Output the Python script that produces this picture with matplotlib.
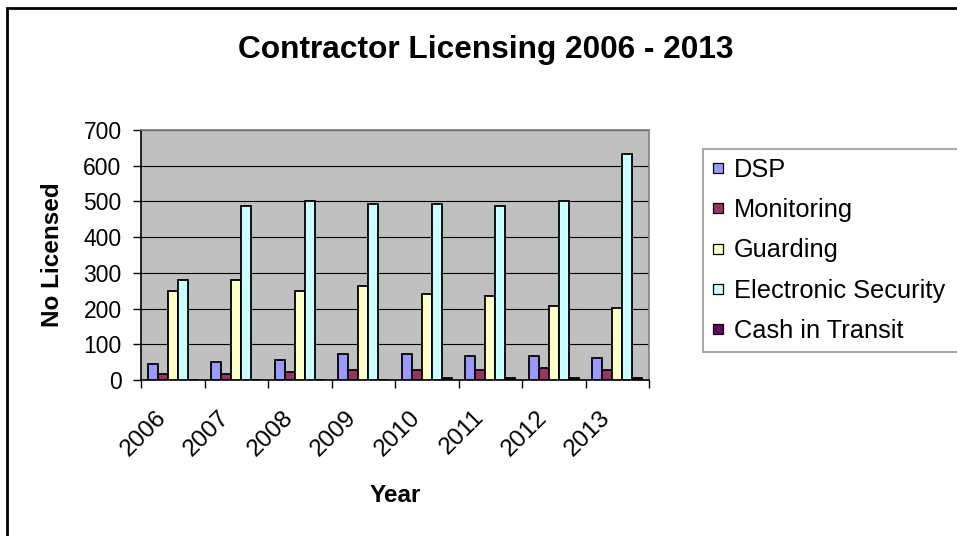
import numpy as np
import matplotlib.pyplot as plt
from matplotlib.lines import Line2D
from matplotlib.patches import Rectangle

plt.rcParams['font.family'] = ['Liberation Sans', 'DejaVu Sans']

years = ['2006', '2007', '2008', '2009', '2010', '2011', '2012', '2013']
dsp = [45, 50, 57, 73, 73, 67, 67, 62]
monitoring = [17, 17, 22, 29, 29, 29, 35, 29]
guarding = [250, 280, 250, 263, 242, 236, 208, 201]
electronic = [280, 488, 500, 492, 492, 488, 500, 633]
cash_transit = [0, 0, 0, 0, 5, 5, 5, 5]

series = [('DSP', dsp, '#9999FF'),
          ('Monitoring', monitoring, '#993366'),
          ('Guarding', guarding, '#FFFFCC'),
          ('Electronic Security', electronic, '#CCFFFF'),
          ('Cash in Transit', cash_transit, '#660066')]

fig = plt.figure(figsize=(9.57, 5.36), dpi=100)
ax = fig.add_axes([141/957, 1 - 380/536, 508/957, 250/536])
ax.set_facecolor('#C0C0C0')

x = np.arange(len(years))
w = 0.1575
for i, (name, vals, col) in enumerate(series):
    ax.bar(x + (i - 2) * w, vals, w, color=col, edgecolor='black',
           linewidth=1.3, label=name, zorder=3)

ax.set_xlim(-0.5, len(years) - 0.5)
ax.set_ylim(0, 700)
ax.set_yticks(range(0, 701, 100))
ax.yaxis.grid(True, color='black', linewidth=0.8, zorder=0)
ax.tick_params(axis='y', labelsize=16.5, length=6, width=1, direction='out', pad=8)

# year labels sit between the boundary ticks
ax.set_xticks(np.arange(-0.5, len(years), 1))
ax.set_xticklabels([])
ax.set_xticks(x - 0.28, minor=True)
ax.set_xticklabels(years, minor=True, rotation=45, ha='right',
                   rotation_mode='anchor', fontsize=17.5)
ax.tick_params(axis='x', which='major', length=6, width=1, direction='out')
ax.tick_params(axis='x', which='minor', length=0, pad=19)

for s in ['top', 'right']:
    ax.spines[s].set_color('#808080')
    ax.spines[s].set_linewidth(1.2)
for s in ['left', 'bottom']:
    ax.spines[s].set_color('black')
    ax.spines[s].set_linewidth(1.2)

ax.set_ylabel('No Licensed', fontsize=17.5, fontweight='bold', labelpad=14)
ax.set_xlabel('Year', fontsize=17.5, fontweight='bold', labelpad=17)

fig.text(0.508, 1 - 50/536, 'Contractor Licensing 2006 - 2013',
         fontsize=22.8, fontweight='bold', ha='center', va='center')

handles = [Line2D([], [], linestyle='none', marker='s', markersize=7.5,
                  markerfacecolor=col, markeredgecolor='black', markeredgewidth=0.9)
           for _, _, col in series]
labels = [name for name, _, _ in series]
leg = fig.legend(handles, labels, loc='upper left',
                 bbox_to_anchor=(703/957, 1 - 351/536, 0.35, 202/536),
                 mode='expand', fontsize=18.3, frameon=True, fancybox=False,
                 edgecolor='#808080', labelspacing=0.64, handlelength=0.5,
                 handletextpad=0.35, borderaxespad=0, borderpad=0.35)
leg.get_frame().set_linewidth(1.2)

# outer chart border, cut off at the right and bottom like the original
fig.patches.append(Rectangle((7/957, -0.1), 1.2, 1.1 - 8/536, transform=fig.transFigure,
                             fill=False, edgecolor='black', linewidth=2))

fig.savefig('out.png', dpi=100)
